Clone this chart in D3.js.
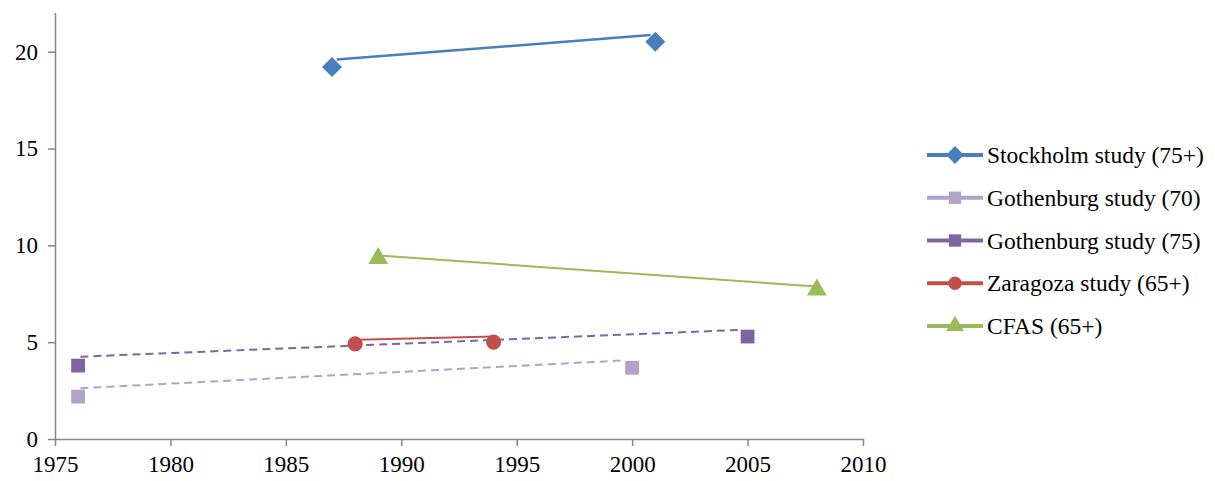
<!DOCTYPE html>
<html>
<head>
<meta charset="utf-8">
<script src="https://cdn.jsdelivr.net/npm/d3@7"></script>
<style>
	body { margin:0; background:#fff; }
</style>
</head>
<body>
<svg id="chart" width="1215" height="481"></svg>
<script>
/************************************ Data *******************************/
var seriesNames = ["Stockholm study (75+)", "Gothenburg study (70)", "Gothenburg study (75)", "Zaragoza study (65+)", "CFAS (65+)"];
var seriesColors = ["#4A7EBB", "#B3A2C7", "#8064A2", "#C0504D", "#9BBB59"];
var seriesSymbols = ["diamond", "square", "square", "circle", "triangle"];
var seriesDashed = [false, true, true, false, false];

// marker points
var pointYears = [[1987, 2001], [1976, 2000], [1976, 2005], [1988, 1994], [1989, 2008]];
var pointValues = [[19.21, 20.52], [2.19, 3.68], [3.79, 5.29], [4.91, 5.0], [9.33, 7.70]];

// connecting lines (drawn a bit off the markers in the original)
var lineYears = [[1987.2, 2000.8], [1976.1, 1999.5], [1976.1, 2004.6], [1988.1, 1994], [1989.2, 2008]];
var lineValues = [[19.6, 20.86], [2.62, 4.05], [4.25, 5.63], [5.12, 5.29], [9.46, 7.87]];

var xTicks = [1975, 1980, 1985, 1990, 1995, 2000, 2005, 2010];
var yTicks = [0, 5, 10, 15, 20];

/************************************ Scales *******************************/
var svg = d3.select("#chart");
var plotLeft = 55, plotRight = 863, plotTop = 13, plotBottom = 439;
var serif = "Liberation Serif";

var x = d3.scaleLinear().domain([1975, 2010]).range([plotLeft, plotRight]);
var y = d3.scaleLinear().domain([0, 22]).range([plotBottom, plotTop]);

// diamond = square turned 45 degrees (d3's own diamond is too tall)
function symbolFor(name, size){
	var types = {diamond: d3.symbolSquare, square: d3.symbolSquare, circle: d3.symbolCircle, triangle: d3.symbolTriangle};
	return d3.symbol().type(types[name]).size(size)();
}
function symbolTurn(name){ return name == "diamond" ? " rotate(45)" : ""; }
var markerSize = {diamond: 200, square: 190, circle: 180, triangle: 170};

/************************************ Axes *******************************/
var yAxis = svg.append("g").attr("transform", "translate(" + plotLeft + ",0)")
	.call(d3.axisLeft(y).tickValues(yTicks).tickSize(7).tickPadding(10).tickSizeOuter(0));
var xAxis = svg.append("g").attr("transform", "translate(0," + plotBottom + ")")
	.call(d3.axisBottom(x).tickValues(xTicks).tickFormat(d3.format("d")).tickSize(7).tickPadding(10).tickSizeOuter(0));

[xAxis, yAxis].forEach(function(ax){
	ax.attr("font-family", serif).attr("font-size", 23);
	ax.select(".domain").attr("stroke", "#868686").attr("stroke-width", 1.5);
	ax.selectAll(".tick line").attr("stroke", "#868686").attr("stroke-width", 1.5);
	ax.selectAll(".tick text").attr("fill", "#000");
});
yAxis.select(".domain").attr("d", "M0.5," + plotBottom + "V" + plotTop);
xAxis.select(".domain").attr("d", "M" + plotLeft + ",0.5H" + plotRight);

/************************************ Series *******************************/
var plot = svg.append("g");
seriesNames.forEach(function(name, i){
	var line = d3.line().x(function(d){ return x(d[0]); }).y(function(d){ return y(d[1]); });
	plot.append("path")
		.attr("d", line(d3.zip(lineYears[i], lineValues[i])))
		.attr("fill", "none")
		.attr("stroke", seriesColors[i])
		.attr("stroke-width", i == 0 ? 2.5 : 2)
		.attr("stroke-dasharray", seriesDashed[i] ? "8,5" : null);
});
seriesNames.forEach(function(name, i){
	plot.selectAll(null).data(d3.zip(pointYears[i], pointValues[i])).enter()
		.append("path")
		.attr("d", symbolFor(seriesSymbols[i], markerSize[seriesSymbols[i]]))
		.attr("transform", function(d){ return "translate(" + x(d[0]) + "," + y(d[1]) + ")" + symbolTurn(seriesSymbols[i]); })
		.attr("fill", seriesColors[i]);
});

/************************************ Legend *******************************/
var legend = svg.append("g").attr("transform", "translate(927,155)")
	.attr("font-family", serif).attr("font-size", 23.5);
var rows = legend.selectAll("g").data(seriesNames).enter().append("g")
	.attr("transform", function(d, i){ return "translate(0," + (i * 42.75) + ")"; });
rows.append("line").attr("x1", 0).attr("x2", 56).attr("y1", 0).attr("y2", 0)
	.attr("stroke", function(d, i){ return seriesColors[i]; })
	.attr("stroke-width", 4);
rows.append("path")
	.attr("d", function(d, i){ return symbolFor(seriesSymbols[i], markerSize[seriesSymbols[i]] * 0.8); })
	.attr("transform", function(d, i){ return "translate(28,0)" + symbolTurn(seriesSymbols[i]); })
	.attr("fill", function(d, i){ return seriesColors[i]; });
rows.append("text").attr("x", 60).attr("y", 0).attr("dy", "0.35em")
	.attr("fill", "#000")
	.text(function(d){ return d; });
</script>
</body>
</html>
